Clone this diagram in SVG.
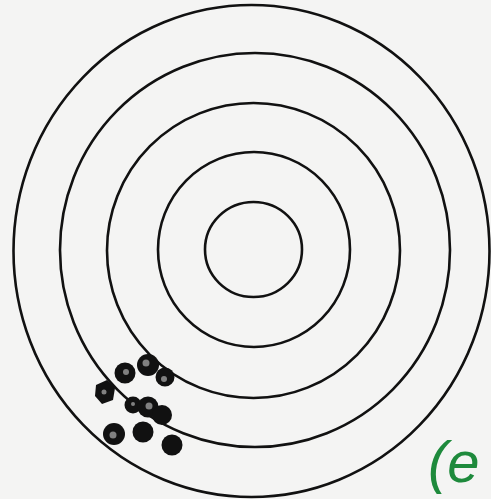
<svg xmlns="http://www.w3.org/2000/svg" width="491" height="499" viewBox="0 0 491 499">
<style>
.ring{fill:none;stroke:#111;stroke-width:2.6}
.hole{fill:#111}
.tex{fill:#808080}
.note{font-family:"Liberation Sans","DejaVu Sans",sans-serif;font-style:italic;font-size:58px;fill:#1e8a3c}
</style>
<rect width="491" height="499" fill="#f4f4f3"/>
<g id="target">
<ellipse class="ring" cx="251.5" cy="251" rx="238" ry="246"/>
<ellipse class="ring" cx="255" cy="250" rx="195" ry="197"/>
<ellipse class="ring" cx="253.5" cy="250.5" rx="146.5" ry="147.5"/>
<ellipse class="ring" cx="254" cy="249.5" rx="96" ry="97.5"/>
<ellipse class="ring" cx="253.5" cy="249.5" rx="48.5" ry="47.5"/>
</g>
<g id="shots">
<circle class="hole" cx="148" cy="365" r="11"/>
<circle class="hole" cx="125" cy="373" r="10.5"/>
<circle class="hole" cx="165" cy="377" r="9.5"/>
<polygon class="hole" points="96,385 107,380 115,388 113,400 102,404 95,396"/>
<circle class="hole" cx="133" cy="405" r="8.5"/>
<circle class="hole" cx="148" cy="407" r="10.5"/>
<circle class="hole" cx="162" cy="415" r="10"/>
<circle class="hole" cx="114" cy="434" r="11"/>
<circle class="hole" cx="143" cy="432" r="10.5"/>
<circle class="hole" cx="172" cy="445" r="10.5"/>
<circle class="tex" cx="146" cy="363" r="3.5"/>
<circle class="tex" cx="126" cy="372" r="3"/>
<circle class="tex" cx="164" cy="379" r="3"/>
<circle class="tex" cx="104" cy="392" r="2.5"/>
<circle class="tex" cx="149" cy="406" r="3.5"/>
<circle class="tex" cx="133" cy="404" r="2"/>
<circle class="tex" cx="113" cy="435" r="3.5"/>
</g>
<text class="note" x="428" y="482">(e</text>
</svg>
